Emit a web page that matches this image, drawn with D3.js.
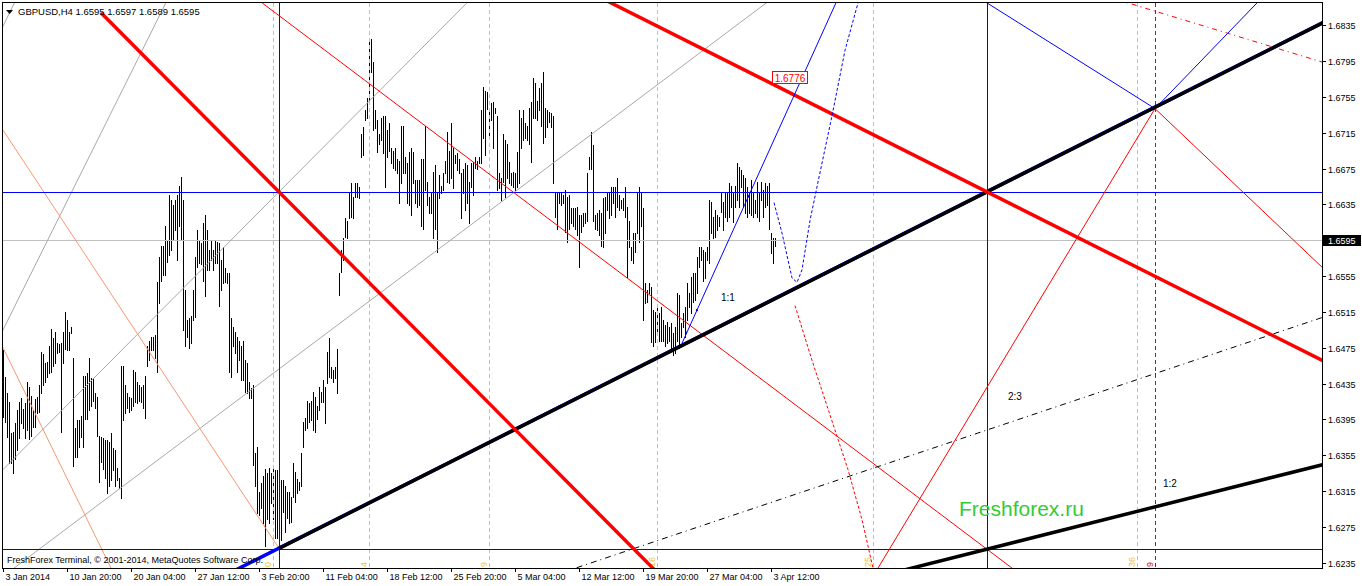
<!DOCTYPE html>
<html><head><meta charset="utf-8">
<script src="https://cdn.jsdelivr.net/npm/d3@7"></script>
<style>
body{margin:0;background:#fff;}
svg{display:block;}
text{font-family:"Liberation Sans",Arial,sans-serif;}
</style>
</head><body>
<svg id="c" width="1362" height="586"></svg>
<script>
// ---------------- DATA ----------------
const symbolName = "GBPUSD,H4";
const lastOHLC = [1.6595, 1.6597, 1.6589, 1.6595];
const bidPrice = 1.6595;

const highs = [
1.6472,1.6442,1.6425,1.6414,1.6380,1.6381,1.6391,1.6405,1.6414,1.6419,1.6407,1.6413,1.6437,1.6431,1.6421,1.6406,1.6418,1.6420,1.6433,1.6470,
1.6468,1.6458,1.6459,1.6477,1.6496,1.6486,1.6493,1.6480,1.6479,1.6480,1.6493,1.6515,1.6506,1.6493,1.6498,1.6464,1.6385,1.6394,1.6394,1.6399,
1.6444,1.6444,1.6447,1.6463,1.6441,1.6441,1.6425,1.6420,1.6377,1.6375,1.6374,1.6372,1.6372,1.6370,1.6380,1.6363,1.6361,1.6341,1.6330,1.6455,
1.6455,1.6433,1.6425,1.6420,1.6419,1.6450,1.6448,1.6437,1.6433,1.6431,1.6433,1.6444,1.6477,1.6483,1.6487,1.6487,1.6489,1.6548,1.6576,1.6589,
1.6589,1.6611,1.6595,1.6645,1.6640,1.6634,1.6640,1.6645,1.6656,1.6666,1.6640,1.6539,1.6506,1.6508,1.6511,1.6539,1.6576,1.6606,1.6595,1.6592,
1.6614,1.6623,1.6606,1.6584,1.6595,1.6584,1.6595,1.6593,1.6592,1.6573,1.6587,1.6564,1.6559,1.6559,1.6508,1.6498,1.6493,1.6487,1.6483,1.6477,
1.6483,1.6461,1.6458,1.6437,1.6430,1.6433,1.6358,1.6364,1.6314,1.6324,1.6332,1.6340,1.6335,1.6341,1.6335,1.6340,1.6338,1.6338,1.6330,1.6327,
1.6327,1.6321,1.6314,1.6314,1.6308,1.6346,1.6336,1.6329,1.6325,1.6358,1.6392,1.6397,1.6416,1.6413,1.6416,1.6426,1.6420,1.6410,1.6431,1.6426,
1.6439,1.6431,1.6470,1.6486,1.6453,1.6450,1.6453,1.6474,1.6559,1.6584,1.6598,1.6620,1.6617,1.6649,1.6659,1.6643,1.6659,1.6659,1.6654,1.6714,
1.6721,1.6740,1.6754,1.6818,1.6820,1.6794,1.6740,1.6729,1.6714,1.6732,1.6734,1.6734,1.6718,1.6726,1.6698,1.6695,1.6698,1.6686,1.6684,1.6723,
1.6723,1.6688,1.6681,1.6693,1.6698,1.6693,1.6662,1.6662,1.6662,1.6686,1.6686,1.6723,1.6660,1.6643,1.6648,1.6671,1.6679,1.6649,1.6668,1.6656,
1.6670,1.6684,1.6716,1.6695,1.6726,1.6698,1.6690,1.6692,1.6686,1.6670,1.6675,1.6681,1.6679,1.6660,1.6681,1.6682,1.6688,1.6684,1.6688,1.6740,
1.6766,1.6762,1.6760,1.6738,1.6748,1.6749,1.6743,1.6734,1.6670,1.6665,1.6714,1.6707,1.6703,1.6682,1.6670,1.6671,1.6670,1.6693,1.6740,1.6732,
1.6740,1.6726,1.6723,1.6743,1.6749,1.6776,1.6771,1.6751,1.6765,1.6771,1.6783,1.6743,1.6740,1.6738,1.6737,1.6734,1.6648,1.6648,1.6648,1.6648,
1.6645,1.6651,1.6643,1.6645,1.6631,1.6631,1.6631,1.6632,1.6623,1.6623,1.6625,1.6625,1.6670,1.6688,1.6716,1.6701,1.6623,1.6625,1.6629,1.6626,
1.6642,1.6643,1.6649,1.6648,1.6654,1.6654,1.6654,1.6665,1.6645,1.6640,1.6642,1.6654,1.6632,1.6617,1.6587,1.6603,1.6603,1.6649,1.6654,1.6649,
1.6631,1.6547,1.6539,1.6547,1.6543,1.6517,1.6515,1.6520,1.6514,1.6520,1.6506,1.6500,1.6504,1.6498,1.6503,1.6492,1.6498,1.6536,1.6534,1.6503,
1.6514,1.6521,1.6547,1.6536,1.6554,1.6559,1.6559,1.6576,1.6587,1.6587,1.6584,1.6582,1.6587,1.6640,1.6638,1.6621,1.6629,1.6623,1.6621,1.6648,
1.6638,1.6649,1.6649,1.6659,1.6656,1.6649,1.6656,1.6681,1.6677,1.6673,1.6668,1.6664,1.6654,1.6649,1.6662,1.6649,1.6640,1.6660,1.6648,1.6660,
1.6651,1.6659,1.6656,1.6659,1.6603,1.6598,1.6597
];
const lows = [
1.6398,1.6392,1.6375,1.6346,1.6346,1.6335,1.6351,1.6361,1.6374,1.6391,1.6385,1.6374,1.6383,1.6373,1.6377,1.6386,1.6386,1.6402,1.6403,1.6425,
1.6433,1.6437,1.6442,1.6447,1.6448,1.6455,1.6458,1.6469,1.6470,1.6381,1.6458,1.6474,1.6473,1.6472,1.6492,1.6343,1.6353,1.6353,1.6364,1.6375,
1.6364,1.6396,1.6396,1.6405,1.6410,1.6416,1.6408,1.6377,1.6325,1.6347,1.6340,1.6330,1.6313,1.6321,1.6327,1.6338,1.6321,1.6327,1.6318,1.6307,
1.6394,1.6402,1.6408,1.6403,1.6405,1.6410,1.6414,1.6413,1.6416,1.6414,1.6408,1.6397,1.6455,1.6461,1.6472,1.6472,1.6464,1.6448,1.6525,1.6550,
1.6556,1.6556,1.6571,1.6578,1.6584,1.6595,1.6606,1.6573,1.6611,1.6595,1.6495,1.6477,1.6487,1.6475,1.6480,1.6506,1.6509,1.6565,1.6570,1.6568,
1.6550,1.6533,1.6562,1.6562,1.6573,1.6562,1.6570,1.6570,1.6522,1.6539,1.6547,1.6548,1.6547,1.6448,1.6442,1.6477,1.6469,1.6448,1.6461,1.6439,
1.6439,1.6426,1.6425,1.6419,1.6419,1.6344,1.6321,1.6291,1.6288,1.6296,1.6279,1.6254,1.6284,1.6279,1.6302,1.6284,1.6263,1.6263,1.6251,1.6260,
1.6292,1.6269,1.6285,1.6279,1.6280,1.6308,1.6303,1.6313,1.6316,1.6321,1.6364,1.6383,1.6385,1.6392,1.6394,1.6383,1.6381,1.6396,1.6405,1.6414,
1.6414,1.6391,1.6436,1.6442,1.6441,1.6437,1.6441,1.6425,1.6534,1.6560,1.6573,1.6599,1.6598,1.6620,1.6621,1.6620,1.6643,1.6643,1.6642,1.6688,
1.6690,1.6729,1.6731,1.6748,1.6783,1.6718,1.6720,1.6693,1.6703,1.6707,1.6692,1.6654,1.6688,1.6695,1.6681,1.6676,1.6673,1.6670,1.6637,1.6659,
1.6670,1.6670,1.6637,1.6634,1.6623,1.6659,1.6637,1.6632,1.6634,1.6611,1.6608,1.6651,1.6634,1.6626,1.6625,1.6598,1.6608,1.6582,1.6642,1.6648,
1.6651,1.6670,1.6660,1.6659,1.6664,1.6653,1.6681,1.6673,1.6670,1.6620,1.6648,1.6629,1.6637,1.6614,1.6654,1.6645,1.6676,1.6675,1.6681,1.6681,
1.6709,1.6690,1.6742,1.6710,1.6729,1.6698,1.6737,1.6651,1.6653,1.6640,1.6660,1.6643,1.6665,1.6659,1.6657,1.6654,1.6651,1.6654,1.6659,1.6698,
1.6707,1.6709,1.6707,1.6703,1.6682,1.6731,1.6732,1.6729,1.6740,1.6723,1.6704,1.6710,1.6721,1.6727,1.6721,1.6659,1.6621,1.6608,1.6637,1.6634,
1.6637,1.6604,1.6593,1.6608,1.6614,1.6611,1.6608,1.6601,1.6565,1.6604,1.6611,1.6614,1.6617,1.6675,1.6675,1.6617,1.6608,1.6606,1.6601,1.6589,
1.6587,1.6603,1.6629,1.6620,1.6623,1.6637,1.6621,1.6632,1.6629,1.6631,1.6629,1.6621,1.6554,1.6587,1.6573,1.6570,1.6582,1.6603,1.6593,1.6611,
1.6506,1.6525,1.6526,1.6536,1.6481,1.6477,1.6481,1.6492,1.6483,1.6483,1.6483,1.6477,1.6480,1.6483,1.6472,1.6467,1.6469,1.6483,1.6475,1.6487,
1.6498,1.6487,1.6506,1.6521,1.6514,1.6526,1.6528,1.6536,1.6565,1.6573,1.6550,1.6553,1.6573,1.6570,1.6603,1.6598,1.6599,1.6606,1.6611,1.6627,
1.6606,1.6621,1.6617,1.6621,1.6632,1.6615,1.6632,1.6640,1.6632,1.6654,1.6632,1.6625,1.6621,1.6625,1.6623,1.6621,1.6625,1.6621,1.6617,1.6640,
1.6621,1.6632,1.6634,1.6608,1.6581,1.6570,1.6589
];

const timeTickBars = [0,32,64,96,128,160,192,224,256,288,320,352,384];
const timeTickLabels = ["3 Jan 2014","10 Jan 20:00","20 Jan 04:00","27 Jan 12:00","3 Feb 20:00","11 Feb 04:00","18 Feb 12:00","25 Feb 20:00","5 Mar 04:00","12 Mar 12:00","19 Mar 20:00","27 Mar 04:00","3 Apr 12:00"];
const priceTicks = [1.6835,1.6795,1.6755,1.6715,1.6675,1.6635,1.6595,1.6555,1.6515,1.6475,1.6435,1.6395,1.6355,1.6315,1.6275,1.6235];

// Gann fan (origin off-screen) : 1:1 price step per bar, ratios
const fanOrigin = [-218, 1.5851];
const fanStep = 0.00011243;
const fanRatios = [1, 2/3, 1/2];
const fanLabels = ["1:1","2:3","1:2"];
const fanLabelPos = [[359,1.6527],[502.5,1.6417],[580,1.6319]];

// key anchor points (bar index, price)
const lowPoint = [138, 1.6251];
const pivotHigh = [492, 1.6649];
const hLevels = [1.6649, 1.6250];
const vLevelBars = [138, 492];

// other trend lines [p1, p2]
const redThickUpper = [[492,1.6649],[659.5,1.6461]];
const redThickLeft = [[49,1.6849],[138,1.6649]];
const redThinMid = [[198.5,1.6744],[504.5,1.6229]];
const salmonA = [[0,1.6718],[138,1.6251]];
const salmonB = [[0,1.6475],[54,1.6229]];
const grayA = [[0,1.6339],[138,1.6649]];
const grayB = [[98.5,1.6385],[343.5,1.6796]];
const graySteep1 = [[0,1.6834],[3.5,1.6850]];
const graySteep2 = [[0,1.6495],[76.5,1.6838]];
const blueThinRise = [[339.5,1.6480],[403.5,1.6796]];
const blueDots = [[341.5,1.6492],[347,1.6517],[372.7,1.6644]];
const rightBlueDown = [[492,1.6860],[576,1.6742]];
const rightBlueUp = [[576,1.6742],[627,1.6860]];
const rightRedDown = [[576,1.6742],[659.5,1.6565]];
const rightRedUp = [[437.5,1.6229],[576,1.6742]];
const rightRedDash = [[562.5,1.6860],[659.5,1.6794]];

const blueForecast = [[385.5,1.6637],[389.5,1.6603],[394.5,1.6553],[397,1.6548],[399.5,1.6562],[403.5,1.6617],[407.5,1.6660],[414.5,1.6734],[421,1.6807],[427.5,1.6860]];
const redForecast = [[396,1.6522],[404.5,1.6461],[413.5,1.6400],[422.5,1.6339],[429.5,1.6283],[435,1.6229]];

const priceMark = [384.5, 1.6776];
const fibTimeBars = [135,183,243,327,435,567];
const fibTimeLabels = ["0","4","9","16","25","36"];
const fibTimeBars2 = [576];
const fibTimeLabels2 = ["9"];

// ---------------- LAYOUT ----------------
const svg = d3.select("#c");
const plot = {left:3, right:1322, top:3, bottom:568};
const x = d3.scaleLinear().domain([0, 659.5]).range([plot.left, plot.right]);
const y = d3.scaleLinear().domain([1.62291, 1.68599]).range([plot.bottom, plot.top]);

svg.append("rect").attr("width",1362).attr("height",586).attr("fill","#fff");
svg.append("defs").append("clipPath").attr("id","clip")
  .append("rect").attr("x",plot.left).attr("y",plot.top)
  .attr("width",plot.right-plot.left).attr("height",plot.bottom-plot.top);

const g = svg.append("g").attr("clip-path","url(#clip)");

// bars
g.append("g").selectAll("line").data(highs.map((h,i)=>({i,h,l:lows[i]}))).join("line")
  .attr("x1",d=>Math.round(x(d.i))+0.5).attr("x2",d=>Math.round(x(d.i))+0.5)
  .attr("y1",d=>Math.round(y(d.h))).attr("y2",d=>Math.round(y(d.l))+1)
  .attr("stroke","#000").attr("stroke-width",1).attr("shape-rendering","crispEdges");

function ends(p1,p2,mode){
  let X1=x(p1[0]),Y1=y(p1[1]),X2=x(p2[0]),Y2=y(p2[1]);
  const dx=X2-X1,dy=Y2-Y1,L=Math.hypot(dx,dy),ux=dx/L,uy=dy/L,big=4000;
  if(mode==="ray"||mode==="line"){X2=X1+ux*big;Y2=Y1+uy*big;}
  if(mode==="line"){X1=X1-ux*big;Y1=Y1-uy*big;}
  return [X1,Y1,X2,Y2];
}
function draw(p1,p2,mode,color,w,dash){
  const e=ends(p1,p2,mode);
  const l=g.append("line").attr("x1",e[0]).attr("y1",e[1]).attr("x2",e[2]).attr("y2",e[3])
    .attr("stroke",color).attr("stroke-width",w).attr("stroke-linecap","butt");
  if(dash) l.attr("stroke-dasharray",dash);
  return l;
}

// fib time zones
fibTimeBars.forEach((b,k)=>{
  g.append("line").attr("x1",Math.round(x(b))+0.5).attr("x2",Math.round(x(b))+0.5)
   .attr("y1",plot.top).attr("y2",plot.bottom).attr("stroke","#f2c42c").attr("stroke-dasharray","4,3");
  g.append("text").attr("transform",`translate(${Math.round(x(b))-2},${plot.bottom-1}) rotate(-90)`)
   .attr("font-size",9).attr("fill","#f2c42c").text(fibTimeLabels[k]);
});
fibTimeBars2.forEach((b,k)=>{
  g.append("line").attr("x1",Math.round(x(b))+0.5).attr("x2",Math.round(x(b))+0.5)
   .attr("y1",plot.top).attr("y2",plot.bottom).attr("stroke","#e00000").attr("stroke-dasharray","4,3");
  g.append("text").attr("transform",`translate(${Math.round(x(b))-2},${plot.bottom-1}) rotate(-90)`)
   .attr("font-size",9).attr("fill","#e00000").text(fibTimeLabels2[k]);
});

// bid line
g.append("line").attr("x1",plot.left).attr("x2",plot.right).attr("y1",Math.round(y(bidPrice))+0.5).attr("y2",Math.round(y(bidPrice))+0.5)
  .attr("stroke","#c0c0c0");

// gray / salmon lines
draw(grayA[0],grayA[1],"line","#a8a8a8",1);
draw(grayB[0],grayB[1],"line","#a8a8a8",1);
draw(graySteep1[0],graySteep1[1],"line","#a8a8a8",1);
draw(graySteep2[0],graySteep2[1],"line","#a8a8a8",1);
draw(salmonA[0],salmonA[1],"segment","#fa9670",1);
draw(salmonB[0],salmonB[1],"line","#fa9670",1);

// horizontal / vertical blue levels
hLevels.forEach(p=>{
  g.append("line").attr("x1",plot.left).attr("x2",plot.right).attr("y1",Math.round(y(p))+0.5).attr("y2",Math.round(y(p))+0.5)
   .attr("stroke","#0000ff");
});
vLevelBars.forEach(b=>{
  g.append("line").attr("x1",Math.round(x(b))+0.5).attr("x2",Math.round(x(b))+0.5).attr("y1",plot.top).attr("y2",plot.bottom)
   .attr("stroke","#0000ff");
});

// thin red / blue on the right
draw(redThinMid[0],redThinMid[1],"line","#ff0000",1);
draw(rightRedUp[1],rightRedUp[0],"ray","#ff0000",1);
draw(rightRedDown[0],rightRedDown[1],"ray","#ff0000",1);
draw(rightBlueDown[1],rightBlueDown[0],"ray","#0000ff",1);
draw(rightBlueUp[0],rightBlueUp[1],"ray","#0000ff",1);
draw(rightRedDash[0],rightRedDash[1],"line","#ff0000",1,"5,4,1,4");

// Gann fan lines
fanRatios.forEach((r,k)=>{
  const p2=[fanOrigin[0]+100, fanOrigin[1]+fanStep*100*r];
  if(k===0) draw(fanOrigin,p2,"ray","#0000ff",3.5);
  else if(k===1) draw(fanOrigin,p2,"ray","#000",1,"6,4,1,4");
  else draw(fanOrigin,p2,"ray","#000",3.5);
});
// thick black trend from the low
draw(lowPoint,pivotHigh,"ray","#000",3.5);

// thick red lines
draw(redThickUpper[0],redThickUpper[1],"line","#ff0000",3.5);
draw(redThickLeft[0],redThickLeft[1],"ray","#ff0000",3.5);

// blue thin rise + dots
draw(blueThinRise[0],blueThinRise[1],"ray","#0000ff",1);
g.selectAll(".bd").data(blueDots).join("rect").attr("class","bd")
  .attr("x",d=>x(d[0])-1).attr("y",d=>y(d[1])-1).attr("width",2).attr("height",2).attr("fill","#0000ff");

// forecasts
const lineGen = d3.line().x(d=>x(d[0])).y(d=>y(d[1]));
g.append("path").attr("d",lineGen(blueForecast)).attr("fill","none").attr("stroke","#0000ff").attr("stroke-dasharray","3,2");
g.append("path").attr("d",lineGen(redForecast)).attr("fill","none").attr("stroke","#ff0000").attr("stroke-dasharray","3,2");

// fan labels
fanLabels.forEach((t,k)=>{
  g.append("text").attr("x",x(fanLabelPos[k][0])).attr("y",y(fanLabelPos[k][1]))
   .attr("font-size",10).attr("fill","#000").text(t);
});

// price mark 1.6776
const pmx = x(priceMark[0]), pmy = y(priceMark[1]);
g.append("rect").attr("x",Math.round(pmx)+0.5).attr("y",Math.round(pmy)-6.5).attr("width",35).attr("height",12)
  .attr("fill","#fff").attr("stroke","#ff0000");
g.append("text").attr("x",Math.round(pmx)+18).attr("y",Math.round(pmy)+4).attr("text-anchor","middle")
  .attr("font-size",10).attr("fill","#ff0000").text(d3.format(".4f")(priceMark[1]));

// watermark
svg.append("text").attr("x",959).attr("y",516).attr("font-size",21).attr("fill","#33cc33").text("Freshforex.ru");

// copyright
svg.append("text").attr("x",7).attr("y",563).attr("font-size",9).attr("fill","#000")
  .text("FreshForex Terminal, © 2001-2014, MetaQuotes Software Corp.");

// header
svg.append("path").attr("d","M6,10 L13,10 L9.5,14 Z").attr("fill","#000");
svg.append("text").attr("x",18).attr("y",15).attr("font-size",9.5).attr("fill","#000")
  .text(symbolName+"  "+lastOHLC.map(d3.format(".4f")).join(" "));

// frame
svg.append("rect").attr("x",2.5).attr("y",2.5).attr("width",plot.right-2).attr("height",plot.bottom-2)
  .attr("fill","none").attr("stroke","#000").attr("shape-rendering","crispEdges");

// y axis ticks & labels
const ya = svg.append("g");
priceTicks.forEach(p=>{
  const yy=Math.round(y(p))+0.5;
  ya.append("line").attr("x1",plot.right).attr("x2",plot.right+4).attr("y1",yy).attr("y2",yy).attr("stroke","#000");
  ya.append("text").attr("x",plot.right+6).attr("y",yy+3.5).attr("font-size",9).attr("fill","#000").text(d3.format(".4f")(p));
});
// bid box
const by = Math.round(y(bidPrice));
ya.append("rect").attr("x",plot.right+1).attr("y",by-5).attr("width",38).attr("height",11).attr("fill","#000");
ya.append("text").attr("x",plot.right+6).attr("y",by+4).attr("font-size",9).attr("fill","#fff").text(d3.format(".4f")(bidPrice));

// x axis ticks & labels
const xa = svg.append("g");
timeTickBars.forEach((b,k)=>{
  const xx=Math.round(x(b))+0.5;
  xa.append("line").attr("x1",xx).attr("x2",xx).attr("y1",plot.bottom).attr("y2",plot.bottom+4).attr("stroke","#000");
  xa.append("text").attr("x",xx+2).attr("y",580).attr("font-size",9).attr("fill","#000").text(timeTickLabels[k]);
});
</script>
</body></html>
